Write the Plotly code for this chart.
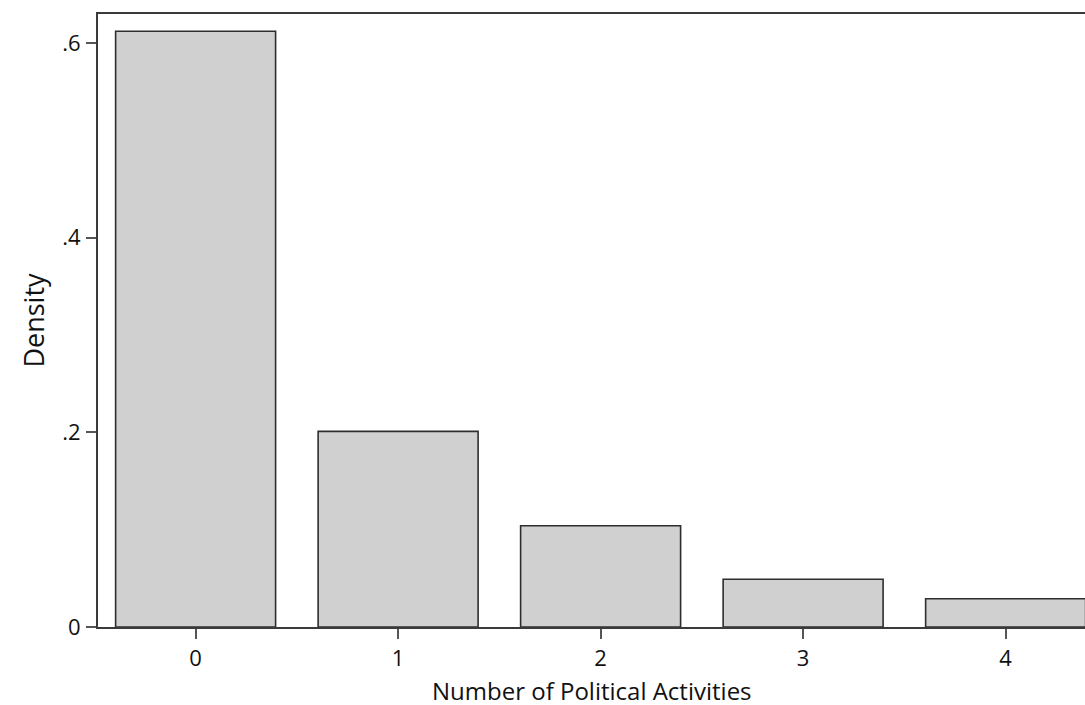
import plotly.graph_objects as go

# Histogram of number of political activities (discrete bins)
activities = [0, 1, 2, 3, 4]
density = [0.612, 0.201, 0.104, 0.049, 0.029]
y_ticks = [0, 0.2, 0.4, 0.6]
y_tick_labels = ["0", ".2", ".4", ".6"]
x_title = "Number of Political Activities"

FONT = "'Open Sans', Lato, sans-serif"
AXIS_COLOR = "#3a3a3a"

fig = go.Figure(
    go.Bar(
        x=activities,
        y=density,
        width=0.79,
        marker=dict(color="#d0d0d0", line=dict(color="#2e2e2e", width=1.6)),
        hoverinfo="x+y",
    )
)

fig.update_layout(
    width=1085,
    height=705,
    margin=dict(l=98, r=0, t=14, b=78),
    paper_bgcolor="white",
    plot_bgcolor="white",
    showlegend=False,
    font=dict(family=FONT, size=22, color="#111111"),
)

# x-axis title drawn as an annotation so it can sit below the margin limit
fig.add_annotation(
    text=x_title,
    xref="paper", yref="paper",
    x=0.5, y=0,
    xanchor="center", yanchor="middle",
    yshift=-63,
    showarrow=False,
    font=dict(family=FONT, size=24, color="#111111"),
)

fig.update_xaxes(
    automargin=False,
    range=[-0.482, 4.392],
    tickmode="array",
    tickvals=activities,
    ticktext=[str(a) for a in activities],
    ticks="outside",
    ticklen=10,
    tickwidth=1.5,
    tickcolor="#555555",
    ticklabelstandoff=1,
    showline=True,
    mirror=True,
    linecolor=AXIS_COLOR,
    linewidth=2,
    showgrid=False,
    zeroline=False,
)

fig.update_yaxes(
    automargin=False,
    range=[0, 0.6297],
    tickmode="array",
    tickvals=y_ticks,
    ticktext=y_tick_labels,
    ticks="outside",
    ticklen=10,
    tickwidth=1.5,
    tickcolor="#555555",
    ticklabelstandoff=1,
    showline=True,
    linecolor=AXIS_COLOR,
    linewidth=2,
    showgrid=False,
    zeroline=False,
    title=dict(text="Density", standoff=10, font=dict(family=FONT, size=27)),
)

fig.write_html("out.html")
